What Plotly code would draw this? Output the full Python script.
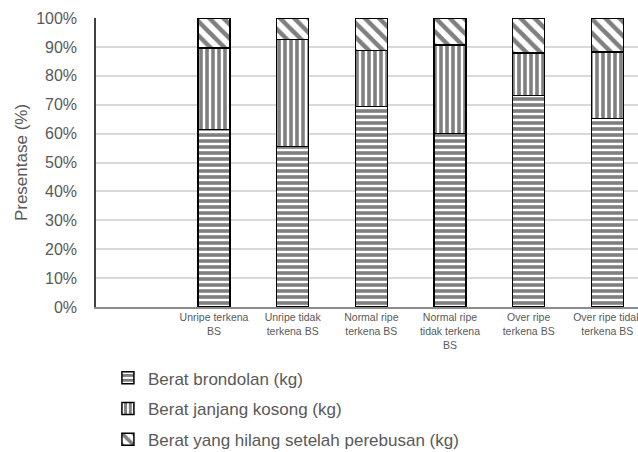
import plotly.graph_objects as go

# Categories (first slot is left empty on the axis)
categories = [
    " ",
    "Unripe terkena<br>BS",
    "Unripe tidak<br>terkena BS",
    "Normal ripe<br>terkena BS",
    "Normal ripe<br>tidak terkena<br>BS",
    "Over ripe<br>terkena BS",
    "Over ripe tidak<br>terkena BS",
]
bar_categories = categories[1:]

# Share of each weight component (%)
berat_brondolan = [61.5, 55.5, 69.3, 60.1, 73.1, 65.3]
berat_janjang_kosong = [28.1, 37.0, 19.5, 30.6, 14.8, 22.9]
berat_hilang = [10.4, 7.5, 11.2, 9.3, 12.1, 11.8]

series_names = [
    "Berat brondolan (kg)",
    "Berat janjang kosong (kg)",
    "Berat yang hilang setelah perebusan (kg)",
]

FONT = "Liberation Sans, Arial, Helvetica, sans-serif"
GREY = "#595959"

fig = go.Figure()

patterns = [
    dict(shape="-", size=6, solidity=0.6),
    dict(shape="|", size=6, solidity=0.6),
    dict(shape="\\", size=10, solidity=0.45),
]
series = [berat_brondolan, berat_janjang_kosong, berat_hilang]
legend_ids = ["legend", "legend2", "legend3"]
# one legend row per series, placed in container coordinates
legend_rows_y = [0.163, 0.095, 0.027]

for name, vals, pat, leg in zip(series_names, series, patterns, legend_ids):
    fig.add_trace(go.Bar(
        x=bar_categories,
        y=vals,
        name=name,
        legend=leg,
        marker=dict(
            color="white",
            line=dict(color="black", width=1.5),
            pattern=dict(fgcolor="black", bgcolor="white", fillmode="overlay", **pat),
        ),
    ))

legend_style = dict(
    orientation="v",
    x=0.022,
    xanchor="left",
    yref="container",
    yanchor="middle",
    font=dict(family=FONT, size=17, color=GREY),
    itemwidth=30,
    bgcolor="rgba(0,0,0,0)",
)

fig.update_layout(
    width=638,
    height=452,
    barmode="stack",
    bargap=0.593,
    plot_bgcolor="white",
    paper_bgcolor="white",
    margin=dict(l=96, r=0, t=18, b=145),
    font=dict(family=FONT, color=GREY),
    showlegend=True,
    legend=dict(y=legend_rows_y[0], **legend_style),
    legend2=dict(y=legend_rows_y[1], **legend_style),
    legend3=dict(y=legend_rows_y[2], **legend_style),
    xaxis=dict(
        type="category",
        categoryorder="array",
        categoryarray=categories,
        tickvals=categories,
        ticktext=categories,
        range=[-0.5, 6.39],
        showline=True,
        linecolor="#8c8c8c",
        linewidth=1.5,
        showgrid=False,
        tickfont=dict(family=FONT, size=10.5, color=GREY),
        tickangle=0,
        ticks="",
        automargin=False,
    ),
    yaxis=dict(
        range=[0, 100],
        tickvals=[0, 10, 20, 30, 40, 50, 60, 70, 80, 90, 100],
        ticktext=[f"{v}%" for v in range(0, 101, 10)],
        showgrid=True,
        gridcolor="#d9d9d9",
        gridwidth=1.5,
        showline=True,
        linecolor="#404040",
        linewidth=1.5,
        zeroline=False,
        ticks="",
        ticklabelstandoff=14,
        tickfont=dict(family=FONT, size=16, color=GREY),
        title=dict(text="Presentase (%)", font=dict(family=FONT, size=17, color=GREY), standoff=4),
        automargin=False,
    ),
)

fig.write_html("out.html")
